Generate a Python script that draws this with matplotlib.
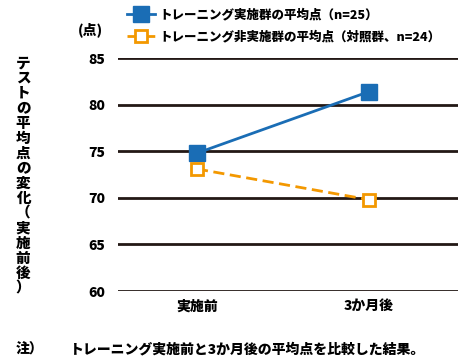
import matplotlib.pyplot as plt

plt.rcParams['font.family'] = ['Noto Sans CJK JP', 'DejaVu Sans']
plt.rcParams['font.weight'] = 'heavy'

# データ
periods = ['実施前', '3か月後']
yticks = [60, 65, 70, 75, 80, 85]
group_a = [74.8, 81.4]
group_b = [73.1, 69.8]
label_a = 'トレーニング実施群の平均点（n=25）'
label_b = 'トレーニング非実施群の平均点（対照群、n=24）'
ylabel = 'テストの平均点の変化（実施前後）'
note = 'トレーニング実施前と3か月後の平均点を比較した結果。'

fig = plt.figure(figsize=(4.62, 3.62), dpi=100)
ax = fig.add_axes([0.2554, 0.196, 0.736, 0.6436])

x = range(len(periods))
ax.plot(x, group_a, color='#1a6db5', lw=2, marker='s', ms=11,
        markerfacecolor='#1a6db5', markeredgecolor='#1a6db5', label=label_a)
ax.plot(x, group_b, color='#f39800', lw=2, ls=(0, (4, 2)), marker='s', ms=9,
        markerfacecolor='white', markeredgecolor='#f39800', markeredgewidth=2,
        label=label_b)

ax.set_xlim(-0.459, 1.517)
ax.set_ylim(60, 85)
ax.set_yticks(yticks)
ax.set_yticklabels([str(v) for v in yticks], fontsize=10, fontweight='heavy')
ax.set_xticks(list(x))
ax.set_xticklabels(periods, fontsize=10, fontweight='heavy')
ax.tick_params(length=0)
ax.tick_params(axis='x', pad=6)
ax.tick_params(axis='y', pad=9)
ax.grid(axis='y', color='#231815', lw=2)
ax.set_axisbelow(True)
for s in ax.spines.values():
    s.set_visible(False)

fig.text(0.195, 0.918, '(点)', fontsize=10, fontweight='heavy', ha='center', va='center')
fig.text(0.05, 0.515, '\n'.join(ylabel), fontsize=10.5, fontweight='heavy',
         ha='center', va='center', linespacing=1.0)
fig.text(0.035, 0.035, '注）', fontsize=10, fontweight='heavy', ha='left', va='center')
fig.text(0.152, 0.035, note, fontsize=10, fontweight='heavy', ha='left', va='center')

fig.legend(loc='upper left', bbox_to_anchor=(0.275, 0.98), frameon=False,
           fontsize=9, handlelength=2.2, handletextpad=0.4, labelspacing=0.75,
           borderaxespad=0, borderpad=0)

fig.savefig('out.png', dpi=100)
